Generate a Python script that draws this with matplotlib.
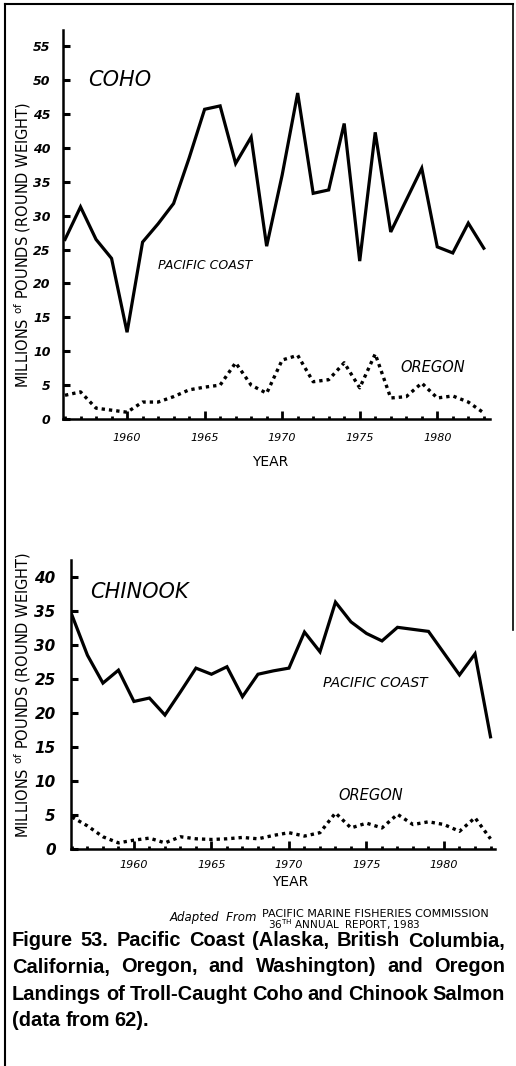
import matplotlib
matplotlib.use("Agg")
import matplotlib.pyplot as plt
from matplotlib.lines import Line2D
import numpy as np

# landings, millions of pounds (round weight), 1956-1983
years = list(range(1956, 1984))
coho_pacific = [26.5, 31.3, 26.5, 23.7, 12.8, 26.1, 28.8, 31.8, 38.5, 45.7, 46.2, 37.7, 41.6, 25.5,
                36.0, 48.1, 33.3, 33.8, 43.6, 23.3, 42.3, 27.6, 32.3, 37.0, 25.4, 24.5, 28.9, 25.2]
coho_oregon = [3.5, 4.0, 1.6, 1.3, 1.0, 2.5, 2.5, 3.3, 4.3, 4.7, 5.0, 8.3, 5.0, 3.8,
               8.7, 9.4, 5.5, 5.8, 8.3, 4.6, 9.6, 3.1, 3.3, 5.3, 3.1, 3.4, 2.5, 0.9]
chinook_pacific = [34.4, 28.5, 24.4, 26.3, 21.7, 22.2, 19.7, 23.1, 26.6, 25.7, 26.8, 22.4, 25.7, 26.2,
                   26.6, 31.9, 29.0, 36.3, 33.4, 31.7, 30.6, 32.6, 32.3, 32.0, 28.8, 25.6, 28.7, 16.5]
chinook_oregon = [4.7, 3.4, 1.8, 0.9, 1.3, 1.6, 0.9, 1.8, 1.5, 1.4, 1.5, 1.7, 1.5, 2.0,
                  2.4, 1.9, 2.4, 5.3, 3.1, 3.8, 3.1, 5.1, 3.6, 4.0, 3.6, 2.6, 4.6, 1.5]
year_ticks = [1960, 1965, 1970, 1975, 1980]

W, H = 516, 1066
fig = plt.figure(figsize=(W/100, H/100), dpi=100)
fig.patch.set_facecolor("white")

def px_axes(left, top, right, bottom):
    return fig.add_axes([left/W, 1-bottom/H, (right-left)/W, (bottom-top)/H])

def fy(y):
    return 1 - y/H

def style_axes(ax, xlim, ylim, ymax_tick, ysize, ypad, xpad):
    ax.set_xlim(*xlim)
    ax.set_ylim(*ylim)
    for s in ["top", "right"]:
        ax.spines[s].set_visible(False)
    for s in ["left", "bottom"]:
        ax.spines[s].set_linewidth(1.8)
    ax.set_yticks(range(0, ymax_tick+1, 5))
    ax.set_xticks(year_ticks)
    ax.set_xticks(years, minor=True)
    ax.set_xticklabels([str(y) for y in year_ticks], fontsize=8, style="italic")
    ax.set_yticklabels([str(v) for v in range(0, ymax_tick+1, 5)], fontsize=ysize,
                       fontweight="bold", style="italic")
    ax.tick_params(axis="y", direction="in", length=5, width=2.2, pad=ypad)
    ax.tick_params(axis="x", which="major", direction="in", length=6, width=2, pad=xpad)
    ax.tick_params(axis="x", which="minor", direction="in", length=2.5, width=2)
    ax.set_facecolor("none")

ylab = r"MILLIONS $\mathregular{^{of}}$ POUNDS (ROUND WEIGHT)"

# COHO
ax1 = px_axes(63, 30, 490, 419)
ax1.plot(years, coho_pacific, color="black", lw=2.3, solid_joinstyle="miter")
ax1.plot(years, coho_oregon, color="black", lw=2.4, linestyle=(0, (1, 1.2)))
style_axes(ax1, (1955.87, 1983.4), (0, 57.4), 55, 9, 9, 10)
fig.text(88/W, fy(80), "COHO", fontsize=15, style="italic", va="center", fontweight="light")
fig.text(158/W, fy(266), "PACIFIC COAST", fontsize=9, style="italic", va="center")
fig.text(400/W, fy(367), "OREGON", fontsize=10.5, style="italic", va="center")
fig.text(270/W, fy(462), "YEAR", fontsize=10, ha="center", va="center")
fig.text(23/W, fy(245), ylab, fontsize=10.5, rotation=90, ha="center", va="center")

# CHINOOK
ax2 = px_axes(71, 560, 495, 849)
ax2.plot(years, chinook_pacific, color="black", lw=2.3, solid_joinstyle="miter")
ax2.plot(years, chinook_oregon, color="black", lw=2.4, linestyle=(0, (1, 1.2)))
style_axes(ax2, (1955.94, 1983.29), (0, 42.5), 40, 11, 11, 8)
fig.text(90/W, fy(592), "CHINOOK", fontsize=15, style="italic", va="center", fontweight="light")
fig.text(323/W, fy(683), "PACIFIC COAST", fontsize=10, style="italic", va="center")
fig.text(338/W, fy(796), "OREGON", fontsize=10.5, style="italic", va="center")
fig.text(290/W, fy(882), "YEAR", fontsize=10, ha="center", va="center")
fig.text(23/W, fy(695), ylab, fontsize=10.5, rotation=90, ha="center", va="center")

# source note
fig.text(170/W, fy(917), "Adapted  From", fontsize=8.5, style="italic", va="center")
fig.text(262/W, fy(914), "PACIFIC MARINE FISHERIES COMMISSION", fontsize=8, va="center",
         family="Liberation Sans Narrow")
fig.text(268/W, fy(925), r"36$^{\mathrm{TH}}$ ANNUAL  REPORT, 1983", fontsize=7.5, va="center",
         family="Liberation Sans Narrow")

# caption, justified
caption = ["Figure 53. Pacific Coast (Alaska, British Columbia,",
           "California, Oregon, and Washington) and Oregon",
           "Landings of Troll-Caught Coho and Chinook Salmon",
           "(data from 62)."]
cap_y = [941, 967, 994, 1020]
cap_kw = dict(fontweight="bold", family="Liberation Sans", va="center")
renderer = fig.canvas.get_renderer()

# size the caption so the longest line fills the width with ~5px word gaps
probe = [fig.text(0, 0, w, fontsize=10, **cap_kw) for w in caption[2].split()]
probe_w = sum(t.get_window_extent(renderer).width for t in probe)
for t in probe:
    t.remove()
cap_size = 10 * (493 - 5 * (len(probe) - 1)) / probe_w

for i, (line, y) in enumerate(zip(caption, cap_y)):
    words = line.split()
    texts = [fig.text(0, fy(y), w, fontsize=cap_size, **cap_kw) for w in words]
    widths = [t.get_window_extent(renderer).width for t in texts]
    if i < len(caption) - 1:
        gap = (505 - 12 - sum(widths)) / (len(words) - 1)
    else:
        gap = 5
    x = 12
    for t, w in zip(texts, widths):
        t.set_x(x/W)
        x += w + gap

# page border
fig.add_artist(Line2D([5/W, 5/W], [0, fy(4)], color="black", lw=1.5))
fig.add_artist(Line2D([5/W, 513/W], [fy(4), fy(4)], color="black", lw=1.5))
fig.add_artist(Line2D([513/W, 513/W], [fy(4), fy(630)], color="black", lw=1.2))

fig.savefig("out.png", dpi=100)
